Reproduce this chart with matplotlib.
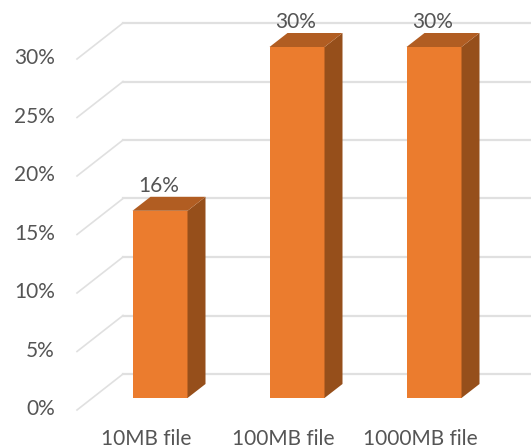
"""Pseudo-3D column chart of percentages per file size."""

import matplotlib
matplotlib.use("Agg")
import matplotlib.pyplot as plt
from matplotlib.patches import Polygon

categories = ["10MB file", "100MB file", "1000MB file"]
values = [16, 30, 30]
y_ticks = [0, 5, 10, 15, 20, 25, 30]

FRONT = "#EB7C2E"
SIDE = "#964F1B"
TOP = "#B15D22"
GRID = "#E0E0E0"
TEXT = "#555555"

W, H = 531, 448
X0, X_STEP = 160.0, 137.0   # px of first column centre, px between columns
Y0, Y_UNIT = 398.0, 11.7    # px of the zero line, px per percent

plt.rcParams["font.family"] = ["Lato", "DejaVu Sans"]

fig = plt.figure(figsize=(W / 100, H / 100), dpi=100)
ax = fig.add_axes([0, 0, 1, 1])
ax.set_xlim(-X0 / X_STEP, (W - X0) / X_STEP)
ax.set_ylim(-(H - Y0) / Y_UNIT, Y0 / Y_UNIT)
ax.axis("off")


def dx(px):
    return px / X_STEP


def dy(px):
    return px / Y_UNIT


# wall and floor lines
for t in y_ticks:
    left = -X0 / X_STEP + dx(77)
    back = -X0 / X_STEP + dx(123)
    ax.plot([left, back], [t - dy(12), t + dy(24)], color=GRID, lw=1.2, zorder=1)
    ax.plot([back, 5], [t + dy(24), t + dy(24)], color=GRID, lw=1.6, zorder=1)
    ax.text(-X0 / X_STEP + dx(55), t - dy(11), f"{t}%", ha="right", va="center",
            fontsize=15, color=TEXT, zorder=4)

bar_w = dx(55)
depth_x, depth_y = dx(18), dy(14)

for i, (name, v) in enumerate(zip(categories, values)):
    l, r = i - bar_w / 2, i + bar_w / 2
    ax.add_patch(Polygon([(l, 0), (r, 0), (r, v), (l, v)], facecolor=FRONT, edgecolor="none", zorder=3))
    ax.add_patch(Polygon([(r, 0), (r + depth_x, depth_y), (r + depth_x, v + depth_y), (r, v)],
                         facecolor=SIDE, edgecolor="none", zorder=3))
    ax.add_patch(Polygon([(l, v), (r, v), (r + depth_x, v + depth_y), (l + depth_x, v + depth_y)],
                         facecolor=TOP, edgecolor="none", zorder=3))
    ax.text(i - dx(1), v + depth_y + dy(11), f"{v}%", ha="center", va="center",
            fontsize=15, color=TEXT, zorder=4)
    ax.text(i - dx(14), -dy(41), name, ha="center", va="center",
            fontsize=15, color=TEXT, zorder=4)

fig.savefig("out.png", dpi=100)
